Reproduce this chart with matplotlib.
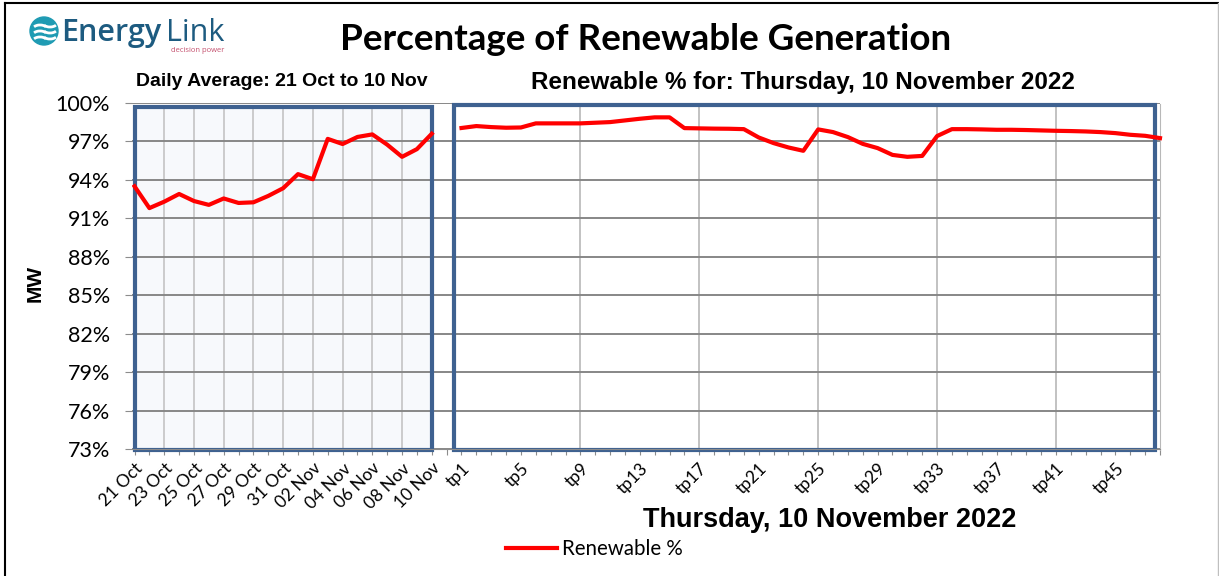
import matplotlib
matplotlib.use("Agg")
import matplotlib.pyplot as plt
from matplotlib.patches import Rectangle, Circle, Arc
from matplotlib.lines import Line2D

days = ["21 Oct", "22 Oct", "23 Oct", "24 Oct", "25 Oct", "26 Oct", "27 Oct",
        "28 Oct", "29 Oct", "30 Oct", "31 Oct", "01 Nov", "02 Nov", "03 Nov",
        "04 Nov", "05 Nov", "06 Nov", "07 Nov", "08 Nov", "09 Nov", "10 Nov"]
daily_avg = [93.5, 91.8, 92.3, 92.9, 92.35, 92.05, 92.55, 92.2, 92.25, 92.75,
             93.35, 94.45, 94.05, 97.2, 96.8, 97.35, 97.55, 96.75, 95.8, 96.4, 97.6]

periods = ["tp%d" % i for i in range(1, 49)]
renewable_tp = [98.05, 98.2, 98.12, 98.07, 98.09, 98.41, 98.41, 98.41, 98.41, 98.46,
                98.51, 98.64, 98.77, 98.88, 98.88, 98.04, 98.02, 98.0, 97.99, 97.96,
                97.31, 96.87, 96.53, 96.27, 97.94, 97.73, 97.34, 96.81, 96.48, 95.95,
                95.8, 95.87, 97.42, 97.96, 97.96, 97.94, 97.91, 97.91, 97.89, 97.86,
                97.83, 97.81, 97.78, 97.73, 97.65, 97.52, 97.44, 97.26]

y_ticks = [73, 76, 79, 82, 85, 88, 91, 94, 97, 100]

calibri = ["Lato", "DejaVu Sans"]
arial = ["Liberation Sans", "DejaVu Sans"]
red = "#ff0000"
box_col = "#3e6190"

fig = plt.figure(figsize=(12.19, 5.76), dpi=100)
ax = fig.add_axes([132 / 1219, 1 - 449 / 576, (1160 - 132) / 1219, 346 / 576])

x_days = list(range(len(days)))
x_tp = [len(days) + 1 + i for i in range(len(periods))]

ax.set_xlim(-0.17, 68.95)
ax.set_ylim(73, 100)

# shaded box behind the daily series
ax.add_patch(Rectangle((0, 72.9), 20, 99.71 - 72.9, facecolor="#f7f9fc",
                       edgecolor="none", zorder=0.5, clip_on=False))

# gridlines
for y in y_ticks:
    ax.axhline(y, color="#878787", lw=1.4, zorder=1)
for i in range(2, 20, 2):
    ax.plot([i, i], [72.9, 99.71], color="#c4c4c4", lw=1.2, zorder=0.8)
for i in range(30, 69, 8):
    ax.plot([i, i], [72.9, 99.84], color="#b8b8b8", lw=1.2, zorder=0.8)

ax.add_patch(Rectangle((0, 72.9), 20, 99.71 - 72.9, facecolor="none",
                       edgecolor=box_col, lw=3, zorder=2, clip_on=False))
ax.add_patch(Rectangle((21.5, 72.9), 68.67 - 21.5, 99.84 - 72.9, facecolor="none",
                       edgecolor=box_col, lw=3, zorder=2, clip_on=False))

ax.plot(x_days, daily_avg, color=red, lw=3, zorder=3, solid_joinstyle="round")
ax.plot(x_tp, renewable_tp, color=red, lw=3, zorder=3, clip_on=False,
        solid_joinstyle="round")

# axes styling
for s in ["top", "left"]:
    ax.spines[s].set_visible(False)
ax.spines["bottom"].set_color("#8c8c8c")
ax.spines["right"].set_color("#b8b8b8")
ax.spines["right"].set_bounds(72.9, 99.9)

ax.set_yticks(y_ticks)
ax.set_yticklabels(["%d%%" % v for v in y_ticks], fontsize=15.5, family=calibri)
ax.tick_params(axis="y", length=5, color="#8c8c8c", pad=11)

ticks = x_days + [len(days)] + x_tp
labels = [d if i % 2 == 0 else "" for i, d in enumerate(days)] + [""] + \
         [p if i % 4 == 0 else "" for i, p in enumerate(periods)]
ax.set_xticks(ticks)
ax.set_xticklabels(labels, fontsize=12.5, family=calibri, rotation=45,
                   ha="right", rotation_mode="anchor")
ax.tick_params(axis="x", length=4, color="#8c8c8c", pad=4)

fig.text(35 / 1219, 1 - 283 / 576, "MW", fontsize=15, fontweight="bold",
         family=arial, rotation=90, ha="center", va="center")

# titles
fig.text(646 / 1219, 1 - 40 / 576, "Percentage of Renewable Generation",
         fontsize=26.5, fontweight="bold", family=calibri, ha="center", va="center")
fig.text(282 / 1219, 1 - 82 / 576, "Daily Average: 21 Oct to 10 Nov",
         fontsize=14, fontweight="bold", family=arial, ha="center", va="center")
fig.text(803 / 1219, 1 - 82 / 576, "Renewable % for: Thursday, 10 November 2022",
         fontsize=17.5, fontweight="bold", family=arial, ha="center", va="center")
fig.text(830 / 1219, 1 - 520 / 576, "Thursday, 10 November 2022",
         fontsize=19.5, fontweight="bold", family=arial, ha="center", va="center")

# legend
fig.legend([Line2D([], [], color=red, lw=3)], ["Renewable %"],
           loc="center left", bbox_to_anchor=(506 / 1219, 1 - 549 / 576),
           frameon=False, prop={"family": calibri, "size": 14.8},
           handlelength=2.5, handletextpad=0.2, borderpad=0, borderaxespad=0)

# logo
logo = fig.add_axes([0, 1 - 60 / 576, 240 / 1219, 60 / 576])
logo.set_xlim(0, 240)
logo.set_ylim(60, 0)
logo.axis("off")
logo.add_patch(Circle((44, 31), 14, color="#1f9bb3"))
for dy in (-6, 0, 6):
    logo.add_patch(Arc((40, 31 + dy + 4), 14, 8, theta1=200, theta2=340,
                       color="white", lw=2))
    logo.add_patch(Arc((50, 31 + dy - 2), 14, 8, theta1=20, theta2=160,
                       color="white", lw=2))
logo.text(61, 33, "Energy", fontsize=22, color="#1d5b80", family=["Open Sans", "DejaVu Sans"],
          fontweight="semibold", va="center", ha="left")
logo.text(166, 33, "Link", fontsize=22, color="#1d5b80", family=["Open Sans", "DejaVu Sans"],
          va="center", ha="left")
logo.text(171, 50, "decision power", fontsize=5.5, color="#c4506e",
          family=["Open Sans", "DejaVu Sans"], va="center", ha="left")

# figure border
fig.add_artist(Line2D([5 / 1219, 5 / 1219], [0, 1 - 3 / 576], color="black", lw=1.5))
fig.add_artist(Line2D([5 / 1219, 1], [1 - 3 / 576, 1 - 3 / 576], color="black", lw=1.5))
fig.add_artist(Line2D([1218 / 1219, 1218 / 1219], [0, 1 - 3 / 576], color="#bfbfbf", lw=1))

fig.savefig("out.png", dpi=100)
